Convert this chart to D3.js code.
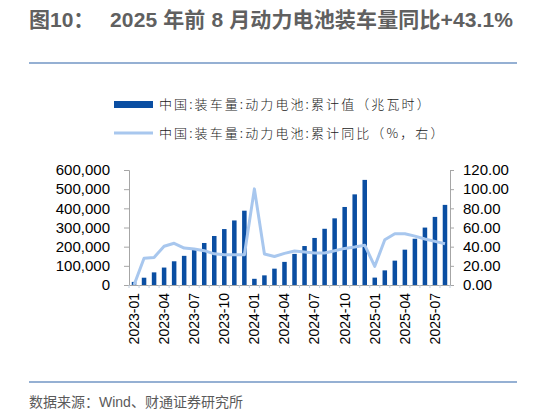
<!DOCTYPE html>
<html><head><meta charset="utf-8">
<script src="https://cdn.jsdelivr.net/npm/d3@7"></script>
<style>body{margin:0;background:#fff}svg{display:block}</style>
</head><body>
<svg id="c" width="533" height="412"></svg>
<script>
const months = ["2023-01","2023-02","2023-03","2023-04","2023-05","2023-06","2023-07","2023-08","2023-09","2023-10","2023-11","2023-12",
"2024-01","2024-02","2024-03","2024-04","2024-05","2024-06","2024-07","2024-08","2024-09","2024-10","2024-11","2024-12",
"2025-01","2025-02","2025-03","2025-04","2025-05","2025-06","2025-07","2025-08"];
const cumVolume = [16100,38000,65900,91000,123700,152100,184300,219200,255700,291800,336800,387700,
32300,50300,85300,120600,162300,203300,245500,293300,347800,407100,472900,548400,
38600,76300,127100,184300,241400,299600,355300,418000];
const cumYoY = [0,28.0,28.8,40.5,43.5,38.5,37.5,35.8,32.5,31.6,31.6,31.6,
100.3,32.4,29.8,33.0,35.4,34.4,33.4,33.4,35.8,38.2,39.6,41.5,
19.5,47.2,53.5,53.5,51.0,48.0,45.5,43.1];
const leftTicks = [0,100000,200000,300000,400000,500000,600000];
const rightTicks = [0,20,40,60,80,100,120];
const xLabels = ["2023-01","2023-04","2023-07","2023-10","2024-01","2024-04","2024-07","2024-10","2025-01","2025-04","2025-07"];
const legendLabels = ["中国:装车量:动力电池:累计值（兆瓦时）","中国:装车量:动力电池:累计同比（%，右）"];

const svg = d3.select("#c");
const L = 129, R = 450, T = 170, B = 285;
const barColor = "#0a4ea2", lineColor = "#a8c7ee", axisColor = "#a6a6a6";
const numFont = "'Liberation Sans', Arial, sans-serif";
const cjkFont = "'Noto Sans CJK SC', sans-serif";

// title
const title = svg.append("text").attr("x",29).attr("y",27).attr("fill","#606060")
  .style("font-family",numFont+", 'Noto Sans CJK SC'").style("font-size","21px").style("font-weight","600");
title.append("tspan").text("图10：");
title.append("tspan").attr("x",110).attr("textLength",403).attr("lengthAdjust","spacing")
  .text("2025 年前 8 月动力电池装车量同比+43.1%");

svg.append("line").attr("x1",29).attr("x2",517).attr("y1",63).attr("y2",63).attr("stroke","#2d62a8").attr("stroke-width",1.2);
svg.append("line").attr("x1",29).attr("x2",517).attr("y1",382).attr("y2",382).attr("stroke","#2d62a8").attr("stroke-width",1.2);

// legend
svg.append("rect").attr("x",114).attr("y",101).attr("width",39).attr("height",7).attr("fill",barColor);
svg.append("line").attr("x1",114).attr("x2",153).attr("y1",133).attr("y2",133).attr("stroke",lineColor).attr("stroke-width",3);
[104,133].forEach((y,i)=>{
  svg.append("text").attr("x",159).attr("y",y).attr("dy","0.35em").text(legendLabels[i])
   .style("font-family",cjkFont).style("font-size","13px").style("font-weight","300")
   .style("letter-spacing","2.1px").attr("fill","#1a1a1a");
});

const x = d3.scaleBand().domain(months).range([L,R]).paddingInner(0.55).paddingOuter(0.275);
const yL = d3.scaleLinear().domain([0,600000]).range([B,T]);
const yR = d3.scaleLinear().domain([0,120]).range([B,T]);

// bars
svg.append("g").selectAll("rect").data(months).join("rect")
  .attr("x",d=>x(d)).attr("width",x.bandwidth())
  .attr("y",(d,i)=>yL(cumVolume[i])).attr("height",(d,i)=>B-yL(cumVolume[i]))
  .attr("fill",barColor);

// line
const line = d3.line().x((d,i)=>x(months[i])+x.bandwidth()/2).y(d=>yR(d));
svg.append("path").datum(cumYoY).attr("d",line).attr("fill","none")
  .attr("stroke",lineColor).attr("stroke-width",3).attr("stroke-linejoin","round");

// axes
const gl = svg.append("g").attr("transform",`translate(${L},0)`)
  .call(d3.axisLeft(yL).tickValues(leftTicks).tickFormat(d3.format(",")).tickSize(5).tickPadding(14));
const gr = svg.append("g").attr("transform",`translate(${R},0)`)
  .call(d3.axisRight(yR).tickValues(rightTicks).tickFormat(d3.format(".2f")).tickSize(4).tickPadding(9));
const gb = svg.append("g").attr("transform",`translate(0,${B})`)
  .call(d3.axisBottom(x).tickValues(xLabels).tickSize(0).tickPadding(0));
[gl,gr,gb].forEach(g=>{
  g.select(".domain").attr("stroke",axisColor);
  g.selectAll(".tick line").attr("stroke",axisColor);
  g.selectAll("text").style("font-family",numFont).style("font-size","15px").attr("fill","#000");
});
gb.selectAll(".tick text").style("font-size","14px")
  .attr("transform","rotate(-90)").attr("text-anchor","end").attr("x",-8).attr("y",0).attr("dy","0.35em");
// category ticks on bottom axis
svg.append("g").selectAll("line").data(months.concat(["end"])).join("line")
  .attr("x1",(d,i)=>L+i*x.step()).attr("x2",(d,i)=>L+i*x.step())
  .attr("y1",B).attr("y2",B+3).attr("stroke","#c0cfe0");

// footer
svg.append("text").attr("x",29).attr("y",402).attr("dy","0.35em").text("数据来源：Wind、财通证券研究所")
  .style("font-family",numFont+", 'Noto Sans CJK SC'").style("font-size","14px").attr("fill","#5a5a5a");
</script>
</body></html>
